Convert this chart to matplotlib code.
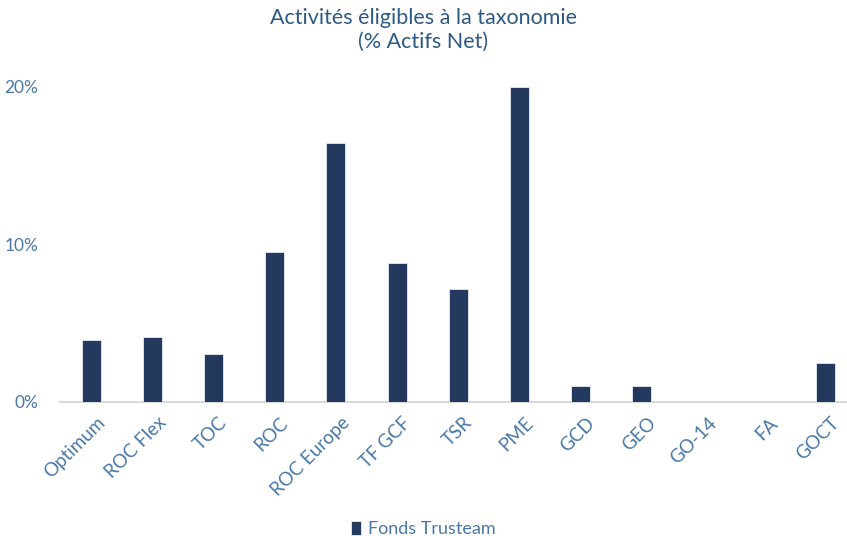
import matplotlib.pyplot as plt
from matplotlib.ticker import PercentFormatter

# data
funds = ["Optimum", "ROC Flex", "TOC", "ROC", "ROC Europe", "TF GCF", "TSR",
         "PME", "GCD", "GEO", "GO-14", "FA", "GOCT"]
eligible = [3.9, 4.1, 3.0, 9.5, 16.45, 8.8, 7.15, 20.0, 1.0, 1.0, 0.0, 0.0, 2.45]

bar_color = "#233A5E"
title_color = "#2C5A85"
tick_color = "#4A78A6"

plt.rcParams["font.family"] = ["Lato", "DejaVu Sans"]

fig = plt.figure(figsize=(8.47, 5.36), dpi=100)
ax = fig.add_axes([0.0714, 0.2506, 0.9286, 0.5877])

x = range(len(funds))
ax.bar(x, eligible, width=0.31, color=bar_color, edgecolor="#E8ECF2",
       linewidth=0.6, label="Fonds Trusteam", zorder=3)

ax.set_xlim(-0.5, 12.35)
ax.set_ylim(0, 20)
ax.set_yticks([0, 10, 20])
ax.yaxis.set_major_formatter(PercentFormatter(decimals=0))
ax.set_xticks([i + 0.08 for i in x])
ax.set_xticklabels(funds, rotation=45, ha="right", rotation_mode="anchor")

for s in ["top", "right", "left"]:
    ax.spines[s].set_visible(False)
ax.spines["bottom"].set_color("#D9D9D9")
ax.spines["bottom"].set_linewidth(1.5)
ax.tick_params(axis="both", length=0, colors=tick_color)
ax.tick_params(axis="y", pad=16, labelsize=12.5)
ax.tick_params(axis="x", pad=9, labelsize=13.5)

fig.suptitle("Activités éligibles à la taxonomie\n(% Actifs Net)", y=0.985,
             fontsize=15.5, color=title_color, linespacing=1.25)

leg = fig.legend(loc="lower center", bbox_to_anchor=(0.5, -0.032), frameon=False,
                 fontsize=13, handlelength=0.55, handleheight=0.8, handletextpad=0.4)
for t in leg.get_texts():
    t.set_color(tick_color)

fig.savefig("out.png", dpi=100)
